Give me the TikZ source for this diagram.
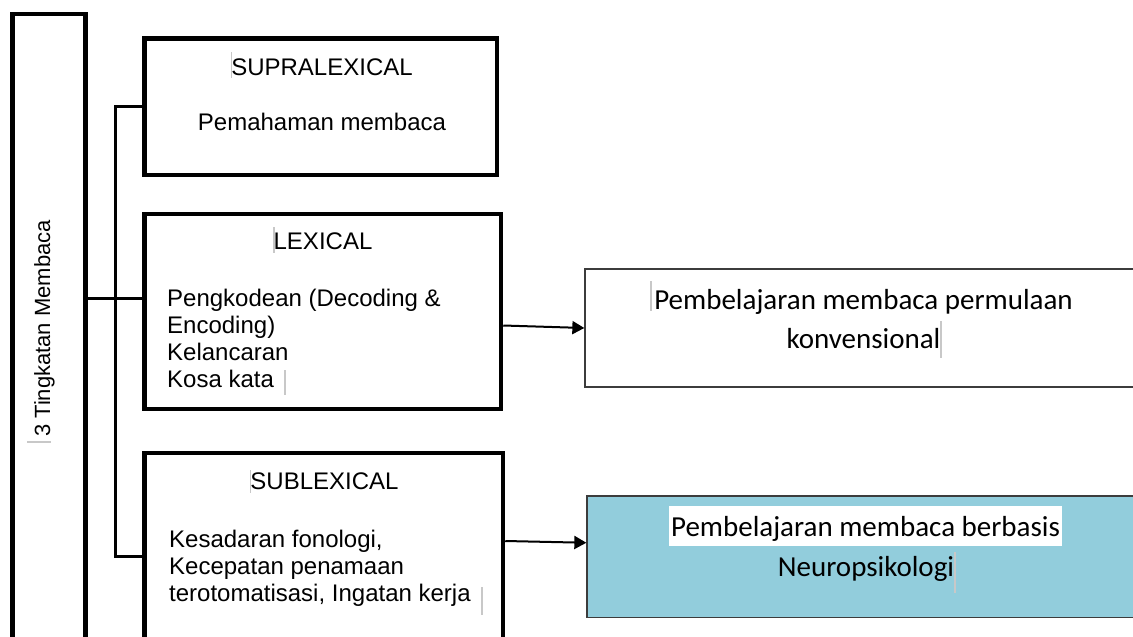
\documentclass[tikz,border=0pt]{standalone}
\usepackage{fontspec}
\setmainfont{Liberation Sans}
\newfontfamily\calibri{Carlito}
\usepackage{tikz}
\usetikzlibrary{arrows.meta,positioning,calc}
\definecolor{neurocolor}{RGB}{146,205,220}
\definecolor{bordergray}{RGB}{60,60,60}
\definecolor{cursorgray}{RGB}{200,200,200}

\tikzset{
  levelbox/.style={draw=black, line width=4.5pt, inner sep=0pt},
  outbox/.style={draw=bordergray, line width=1.3pt, inner sep=0pt},
  bus/.style={line width=3.3pt},
  arr/.style={line width=2pt, -{Triangle[length=12pt,width=13pt]}},
  lbl/.style={inner sep=0pt, font=\fontsize{24}{26.7}\selectfont},
  rlbl/.style={inner sep=0pt, font=\calibri\fontsize{29}{39}\selectfont},
  cursorbar/.style={draw=cursorgray, line width=1.6pt}
}

\begin{document}
\begin{tikzpicture}[x=1pt, y=-1pt]
    \useasboundingbox (0,0) rectangle (1133,637);
    \fill[white] (0,0) rectangle (1133,637);
    \clip (0,0) rectangle (1133,637);

    % left column box and the three levels
    \node[levelbox, minimum width=73pt, minimum height=646pt] (tingkat) at (49,337) {};
    \node[levelbox, minimum width=352.5pt, minimum height=136.5pt] (supra) at (320.75,106.75) {};
    \node[levelbox, minimum width=356.5pt, minimum height=195pt] (lex) at (322.75,311.5) {};
    \node[levelbox, minimum width=358.5pt, minimum height=207pt] (sub) at (323.75,556.5) {};

    % outcome boxes on the right
    \node[outbox, minimum width=556pt, minimum height=118pt] (conv) at (863,328) {};
    \node[outbox, fill=neurocolor, minimum width=556pt, minimum height=121.5pt] (neuro) at (865,556.75) {};

    % texts (multi-line nodes sit on their last baseline)
    \node[lbl, font=\fontsize{22}{24}\selectfont, rotate=90, anchor=base] (tingkattext) at (50,328.5)
        {3 Tingkatan Membaca};
    \node[lbl, anchor=base] (supratitle) at (322,75) {SUPRALEXICAL};
    \node[lbl, anchor=base] (supratext) at (322,130) {Pemahaman membaca};
    \node[lbl, anchor=base] (lextitle) at (323,249) {LEXICAL};
    \node[lbl, anchor=base west, align=left] (lextext) at (167,387)
        {Pengkodean (Decoding \&\\Encoding)\\Kelancaran\\Kosa kata};
    \node[lbl, anchor=base] (subtitle) at (324.5,489) {SUBLEXICAL};
    \node[lbl, anchor=base west, align=left] (subtext) at (169,601)
        {Kesadaran fonologi,\\Kecepatan penamaan\\terotomatisasi, Ingatan kerja};
    \node[rlbl, anchor=base, align=center] (convtext) at (863.5,348)
        {Pembelajaran membaca permulaan\\konvensional};
    \node[rlbl, anchor=base, fill=white, text height=30pt, text depth=10pt, inner xsep=2pt]
        (neurotitle) at (865.5,536) {Pembelajaran membaca berbasis};
    \node[rlbl, anchor=base] (neurotext) at (866,576) {Neuropsikologi};

    % connectors
    \coordinate (busx) at (115.5,0);
    \coordinate (trunk) at (0,298.5);
    \draw[bus] (tingkat.east |- trunk) -- (lex.west |- trunk);
    \draw[bus] (supra.west) -| (busx |- sub.west) -- (sub.west);
    \draw[arr] ([yshift=-14pt]lex.east) -- (conv.west);
    \draw[arr] ([yshift=15.5pt]sub.east) -- ([yshift=14pt]neuro.west);

    % cursor marks left in the text
    \foreach \x/\ya/\yb in {231.5/52/78, 274/227/253, 285/370/395, 250.5/470/493,
                            482/587/615, 651/281/311, 941/321/358, 955/552/593}
        \draw[cursorbar] (\x,\ya) -- (\x,\yb);
    \draw[cursorbar] (27,442) -- (51,442);
\end{tikzpicture}
\end{document}
